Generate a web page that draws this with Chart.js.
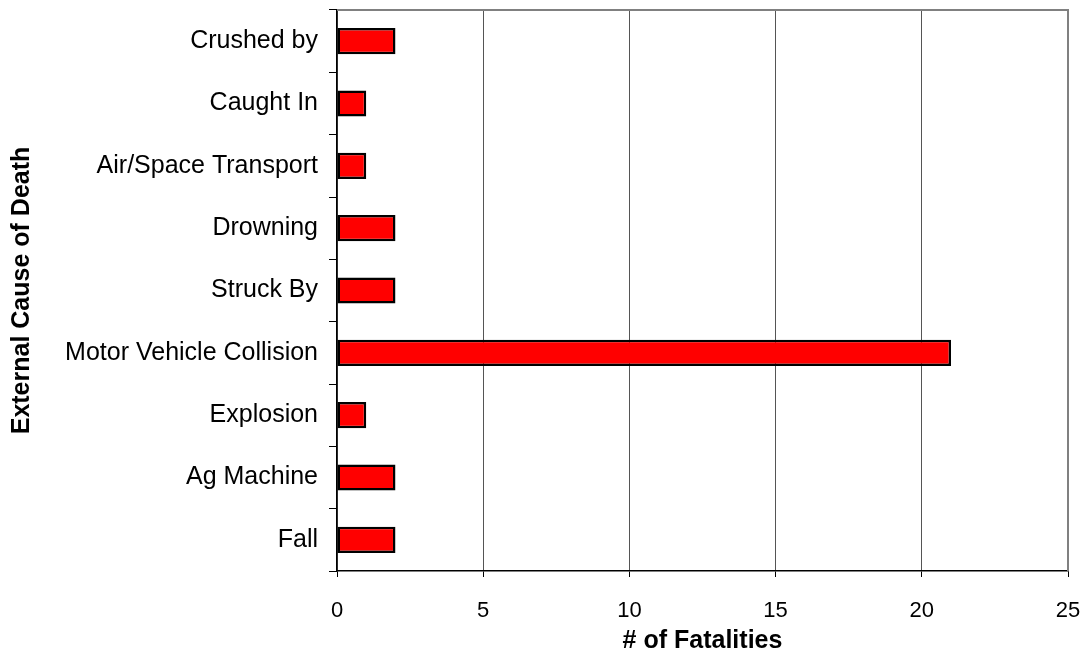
<!DOCTYPE html>
<html>
<head>
<meta charset="utf-8">
<script src="https://cdn.jsdelivr.net/npm/chart.js@4"></script>
<style>
  html, body { margin: 0; padding: 0; background: #fff; }
  #wrap { width: 1086px; height: 663px; position: relative; }
</style>
</head>
<body>
<div id="wrap"><canvas id="c" width="1086" height="663"></canvas></div>
<script>
// External causes, listed top to bottom
const causes = [
  "Crushed by",
  "Caught In",
  "Air/Space Transport",
  "Drowning",
  "Struck By",
  "Motor Vehicle Collision",
  "Explosion",
  "Ag Machine",
  "Fall"
];
const fatalities = [2, 1, 1, 2, 2, 21, 1, 2, 2];
const xTicks = [0, 5, 10, 15, 20, 25];

const FONT = "Liberation Sans, Arial, sans-serif";

// Gray frame on the top and right sides of the plot area
const frame = {
  id: "frame",
  afterDatasetsDraw(chart) {
    const { ctx, chartArea: a } = chart;
    ctx.save();
    ctx.strokeStyle = "#808080";
    ctx.lineWidth = 2;
    ctx.beginPath();
    ctx.moveTo(a.left, a.top);
    ctx.lineTo(a.right, a.top);
    ctx.lineTo(a.right, a.bottom);
    ctx.stroke();
    ctx.restore();
  }
};

new Chart(document.getElementById("c"), {
  type: "bar",
  data: {
    labels: causes,
    datasets: [{
      data: fatalities,
      backgroundColor: "#ff0000",
      borderColor: "#000000",
      borderWidth: 2.5,
      borderSkipped: false,
      barPercentage: 0.42,
      categoryPercentage: 1
    }]
  },
  options: {
    indexAxis: "y",
    responsive: false,
    animation: false,
    devicePixelRatio: 1,
    layout: { padding: { top: 10, right: 18, left: 0, bottom: 0 } },
    plugins: { legend: { display: false }, tooltip: { enabled: false } },
    scales: {
      x: {
        min: 0,
        max: 25,
        afterBuildTicks(scale) { scale.ticks = xTicks.map(v => ({ value: v })); },
        afterFit(scale) {
          scale.height = 92;
          scale.paddingRight = 0;
        },
        border: { color: "#000", width: 1.5 },
        grid: { color: "#555", lineWidth: 1, tickLength: 6, tickColor: "#000" },
        ticks: { color: "#000", font: { family: FONT, size: 22 }, padding: 21, maxRotation: 0 },
        title: {
          display: true,
          text: "# of Fatalities",
          color: "#000",
          font: { family: FONT, size: 25, weight: "bold" },
          padding: { top: 0, bottom: 7 }
        }
      },
      y: {
        afterFit(scale) {
          scale.width = 337;
          scale.paddingTop = 0;
          scale.paddingBottom = 0;
        },
        border: { color: "#000", width: 1.5 },
        grid: { offset: true, drawOnChartArea: false, tickLength: 8, tickColor: "#000" },
        ticks: { color: "#000", font: { family: FONT, size: 25 }, padding: 11 },
        title: {
          display: true,
          text: "External Cause of Death",
          color: "#000",
          font: { family: FONT, size: 25, weight: "bold" },
          padding: { top: 7, bottom: 0 }
        }
      }
    }
  },
  plugins: [frame]
});
</script>
</body>
</html>
